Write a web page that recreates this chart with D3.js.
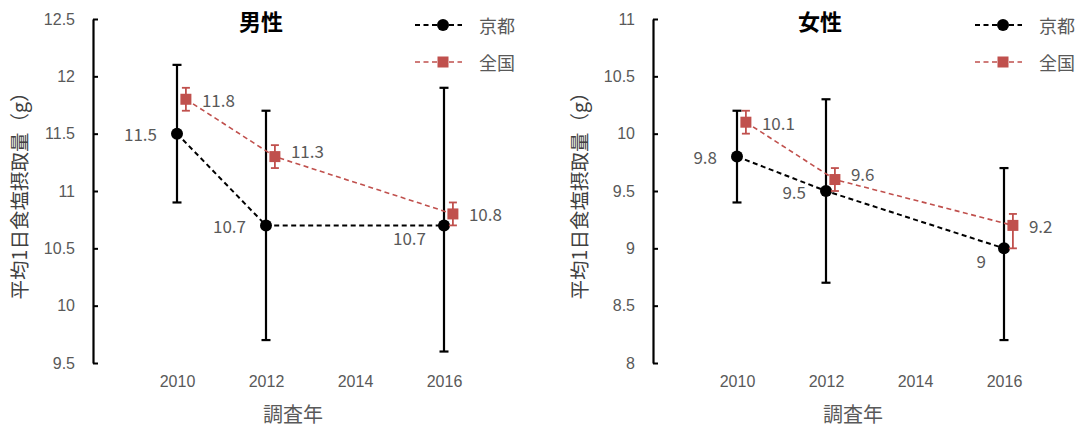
<!DOCTYPE html>
<html>
<head>
<meta charset="utf-8">
<script src="https://cdn.jsdelivr.net/npm/d3@7"></script>
<style>
  html, body { margin: 0; padding: 0; background: #fff; }
  svg { display: block; font-family: "Noto Sans CJK JP", "Noto Sans", sans-serif; }
</style>
</head>
<body>
<svg id="chart" width="1080" height="430"></svg>
<script>
// Survey years and tick labels
const years = [2010, 2012, 2016];
const xTicks = [2010, 2012, 2014, 2016];

// Men: mean daily salt intake (g) with error-bar bounds
const menKyoto = [11.5, 10.7, 10.7];
const menKyotoLow = [10.9, 9.7, 9.6];
const menKyotoHigh = [12.1, 11.7, 11.9];
const menNation = [11.8, 11.3, 10.8];
const menNationLow = [11.7, 11.2, 10.7];
const menNationHigh = [11.9, 11.4, 10.9];
const menTicks = [9.5, 10, 10.5, 11, 11.5, 12, 12.5];

// Women
const womenKyoto = [9.8, 9.5, 9.0];
const womenKyotoLow = [9.4, 8.7, 8.2];
const womenKyotoHigh = [10.2, 10.3, 9.7];
const womenNation = [10.1, 9.6, 9.2];
const womenNationLow = [10.0, 9.5, 9.0];
const womenNationHigh = [10.2, 9.7, 9.3];
const womenTicks = [8, 8.5, 9, 9.5, 10, 10.5, 11];

// Where each value label sits relative to its marker
const menKyotoLabelSide = ["left", "left", "below-left"];
const menNationLabelSide = ["right", "above-right", "right"];
const womenKyotoLabelSide = ["left", "left", "below-left"];
const womenNationLabelSide = ["right", "above-right", "right"];

const seriesNames = ["京都", "全国"];
const yTitle = "平均1日食塩摂取量（g）";
const xTitle = "調査年";

const RED = "#C0504D";
const GRAY = "#595959";
const svg = d3.select("#chart");

function drawPanel(opt) {
  const g = svg.append("g");
  const x = d3.scaleLinear().domain([2008, 2018]).range([opt.axisX - 5, opt.axisX + 440]);
  const y = d3.scaleLinear().domain(opt.yDomain).range([363, 19]);
  const nationShift = 0.2; // national series drawn slightly right of the Kyoto one

  // y axis with inward ticks
  const yAxis = d3.axisLeft(y).tickValues(opt.yTicks).tickSizeInner(-5).tickSizeOuter(0)
    .tickPadding(18).tickFormat(d3.format("~g"));
  const ya = g.append("g").attr("transform", `translate(${opt.axisX},0)`).call(yAxis);
  ya.select(".domain").attr("stroke", "#000").attr("stroke-width", 2.2);
  ya.selectAll(".tick line").attr("stroke", "#000").attr("stroke-width", 2);
  ya.selectAll(".tick text").attr("fill", GRAY).style("font-size", "16px");

  // x tick labels (no axis line)
  const xAxis = d3.axisBottom(x).tickValues(xTicks).tickSize(0).tickPadding(0).tickFormat(d3.format("d"));
  const xa = g.append("g").attr("transform", "translate(0,376)").call(xAxis);
  xa.select(".domain").remove();
  xa.selectAll(".tick text").attr("fill", GRAY).style("font-size", "16px");

  // axis titles
  g.append("text").attr("x", opt.axisX + 200).attr("y", 422).attr("text-anchor", "middle")
    .attr("fill", GRAY).style("font-size", "20px").text(xTitle);
  g.append("text").attr("transform", `translate(${opt.axisX - 75},191) rotate(-90)`)
    .attr("text-anchor", "middle").attr("dominant-baseline", "central")
    .attr("fill", "#404040").style("font-size", "19.5px").text(yTitle);

  // panel title
  g.append("text").attr("x", opt.axisX + opt.titleDx).attr("y", 30).attr("text-anchor", "middle")
    .attr("fill", "#000").style("font-size", "22px").style("font-weight", "bold").text(opt.title);

  const series = [
    { vals: opt.kyoto, lo: opt.kyotoLow, hi: opt.kyotoHigh, side: opt.kyotoSide, shift: 0,
      color: "#000", lw: 2, ew: 2.2, cap: 4.5, shape: "circle" },
    { vals: opt.nation, lo: opt.nationLow, hi: opt.nationHigh, side: opt.nationSide, shift: nationShift,
      color: RED, lw: 1.6, ew: 1.8, cap: 4, shape: "square" }
  ];

  series.forEach(s => {
    const pts = years.map((yr, i) => ({ x: x(yr + s.shift), v: s.vals[i], lo: s.lo[i], hi: s.hi[i], side: s.side[i] }));

    g.append("path").datum(pts)
      .attr("d", d3.line().x(d => d.x).y(d => y(d.v)))
      .attr("fill", "none").attr("stroke", s.color).attr("stroke-width", s.lw)
      .attr("stroke-dasharray", "5,3.5");

    const eb = g.append("g").attr("stroke", s.color).attr("stroke-width", s.ew);
    pts.forEach(p => {
      eb.append("line").attr("x1", p.x).attr("x2", p.x).attr("y1", y(p.lo)).attr("y2", y(p.hi));
      eb.append("line").attr("x1", p.x - s.cap).attr("x2", p.x + s.cap).attr("y1", y(p.lo)).attr("y2", y(p.lo));
      eb.append("line").attr("x1", p.x - s.cap).attr("x2", p.x + s.cap).attr("y1", y(p.hi)).attr("y2", y(p.hi));
    });

    pts.forEach(p => {
      if (s.shape === "circle") {
        g.append("circle").attr("cx", p.x).attr("cy", y(p.v)).attr("r", 6).attr("fill", "#000");
      } else {
        g.append("rect").attr("x", p.x - 5.5).attr("y", y(p.v) - 5.5).attr("width", 11).attr("height", 11).attr("fill", RED);
      }
    });

    pts.forEach(p => {
      let dx = 16, dy = 0, anchor = "start";
      if (p.side === "left") { dx = -20; anchor = "end"; }
      if (p.side === "below-left") { dx = -18; dy = 12; anchor = "end"; }
      if (p.side === "above-right") { dx = 16; dy = -6; }
      g.append("text").attr("x", p.x + dx).attr("y", y(p.v) + dy)
        .attr("text-anchor", anchor).attr("dominant-baseline", "central")
        .attr("fill", GRAY).style("font-size", "17px").text(d3.format("~g")(p.v));
    });
  });

  // legend
  const lx = opt.axisX + 322;
  [{ name: seriesNames[0], color: "#000", lw: 2, shape: "circle", y: 25 },
   { name: seriesNames[1], color: RED, lw: 1.6, shape: "square", y: 62 }].forEach(it => {
    g.append("line").attr("x1", lx).attr("x2", lx + 47).attr("y1", it.y).attr("y2", it.y)
      .attr("stroke", it.color).attr("stroke-width", it.lw).attr("stroke-dasharray", "5,3.5");
    if (it.shape === "circle") {
      g.append("circle").attr("cx", lx + 28).attr("cy", it.y).attr("r", 6).attr("fill", "#000");
    } else {
      g.append("rect").attr("x", lx + 28 - 5.5).attr("y", it.y - 5.5).attr("width", 11).attr("height", 11).attr("fill", RED);
    }
    g.append("text").attr("x", lx + 64).attr("y", it.y).attr("dominant-baseline", "central")
      .attr("fill", GRAY).style("font-size", "18px").text(it.name);
  });
}

drawPanel({
  axisX: 93, title: "男性", titleDx: 168, yDomain: [9.5, 12.5], yTicks: menTicks,
  kyoto: menKyoto, kyotoLow: menKyotoLow, kyotoHigh: menKyotoHigh, kyotoSide: menKyotoLabelSide,
  nation: menNation, nationLow: menNationLow, nationHigh: menNationHigh, nationSide: menNationLabelSide
});
drawPanel({
  axisX: 653, title: "女性", titleDx: 167, yDomain: [8, 11], yTicks: womenTicks,
  kyoto: womenKyoto, kyotoLow: womenKyotoLow, kyotoHigh: womenKyotoHigh, kyotoSide: womenKyotoLabelSide,
  nation: womenNation, nationLow: womenNationLow, nationHigh: womenNationHigh, nationSide: womenNationLabelSide
});
</script>
</body>
</html>
